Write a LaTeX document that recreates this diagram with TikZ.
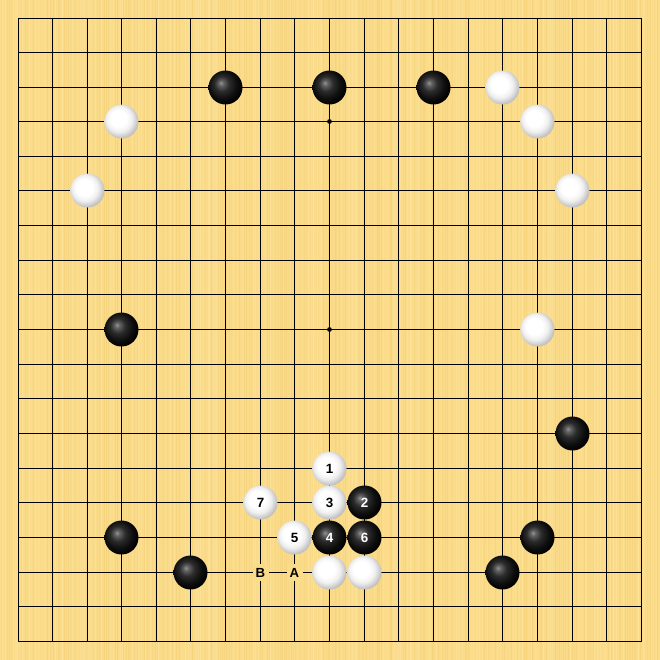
\documentclass[tikz,border=0pt]{standalone}
\usepackage{fontspec}
\setmainfont{Liberation Sans}
\definecolor{board}{RGB}{250,219,138}
\definecolor{stripeL}{RGB}{255,232,165}
\definecolor{stripeD}{RGB}{243,204,112}
\pgfdeclareradialshading{wstone}{\pgfpoint{-6bp}{6bp}}{color(0bp)=(white); color(12bp)=(white); color(19bp)=(black!6); color(25bp)=(black!20); color(31bp)=(black!34); color(50bp)=(black!34)}
\pgfdeclareradialshading{bstone}{\pgfpoint{-7bp}{7bp}}{color(0bp)=(black!42); color(4bp)=(black!62); color(11bp)=(black!83); color(20bp)=(black!94); color(28bp)=(black); color(50bp)=(black)}
\tikzset{
  gridline/.style={line width=0.62pt, black, line cap=rect},
  stone/.style={circle, inner sep=0pt, minimum size=17pt, font=\fontsize{6.7}{7}\selectfont\bfseries},
  wst/.style={stone, shading=wstone, text=black},
  bst/.style={stone, shading=bstone, text=white},
  starpt/.style={circle, fill=black, inner sep=0pt, minimum size=2.4pt},
  lbl/.style={fill=board, inner sep=0pt, minimum width=8pt, minimum height=8.6pt, font=\fontsize{6.6}{7}\selectfont\bfseries, text=black}
}
\begin{document}
\begin{tikzpicture}[x=0.5pt,y=-0.5pt]
\useasboundingbox (0,0) rectangle (660,660);
\fill[board] (0,0) rectangle (660,660);
\pgfmathsetseed{7}
\foreach \i in {0,...,300}{
  \pgfmathsetmacro\xx{\i*2.2+1.2*rnd}
  \pgfmathsetmacro\op{0.15+0.35*rnd}
  \pgfmathsetmacro\wd{0.2+0.4*rnd}
  \pgfmathparse{rnd>0.5 ? 1 : 0}
  \ifnum\pgfmathresult=1
    \draw[stripeL, opacity=\op, line width=\wd pt] (\xx,0) -- (\xx,660);
  \else
    \draw[stripeD, opacity=\op, line width=\wd pt] (\xx,0) -- (\xx,660);
  \fi
}
\foreach \p in {18,52,87,121,156,190,225,260,294,329,364,398,433,468,502,537,572,606,641}{
  \pgfmathsetmacro\q{\p+0.5}
  \draw[gridline] (\q,18.5) -- (\q,641.5);
  \draw[gridline] (18.5,\q) -- (641.5,\q);
}
\foreach \a in {121.5,329.5,537.5}{\foreach \b in {121.5,329.5,537.5}{\node[starpt] at (\a,\b) {};}}
% black stones
\node[bst] (b1) at (225.5,87.5) {};
\node[bst] (b2) at (329.5,87.5) {};
\node[bst] (b3) at (433.5,87.5) {};
\node[bst] (b4) at (121.5,329.5) {};
\node[bst] (b5) at (572.5,433.5) {};
\node[bst] (b6) at (121.5,537.5) {};
\node[bst] (b7) at (537.5,537.5) {};
\node[bst] (b8) at (190.5,572.5) {};
\node[bst] (b9) at (502.5,572.5) {};
\node[bst] (m2) at (364.5,502.5) {2};
\node[bst] (m4) at (329.5,537.5) {4};
\node[bst] (m6) at (364.5,537.5) {6};
% white stones
\node[wst] (w1) at (502.5,87.5) {};
\node[wst] (w2) at (121.5,121.5) {};
\node[wst] (w3) at (537.5,121.5) {};
\node[wst] (w4) at (87.5,190.5) {};
\node[wst] (w5) at (572.5,190.5) {};
\node[wst] (w6) at (537.5,329.5) {};
\node[wst] (w7) at (329.5,572.5) {};
\node[wst] (w8) at (364.5,572.5) {};
\node[wst] (m1) at (329.5,468.5) {1};
\node[wst] (m3) at (329.5,502.5) {3};
\node[wst] (m5) at (294.5,537.5) {5};
\node[wst] (m7) at (260.5,502.5) {7};
% letters
\node[lbl] (lB) at (260.5,572.5) {B};
\node[lbl] (lA) at (294.5,572.5) {A};
\end{tikzpicture}
\end{document}
